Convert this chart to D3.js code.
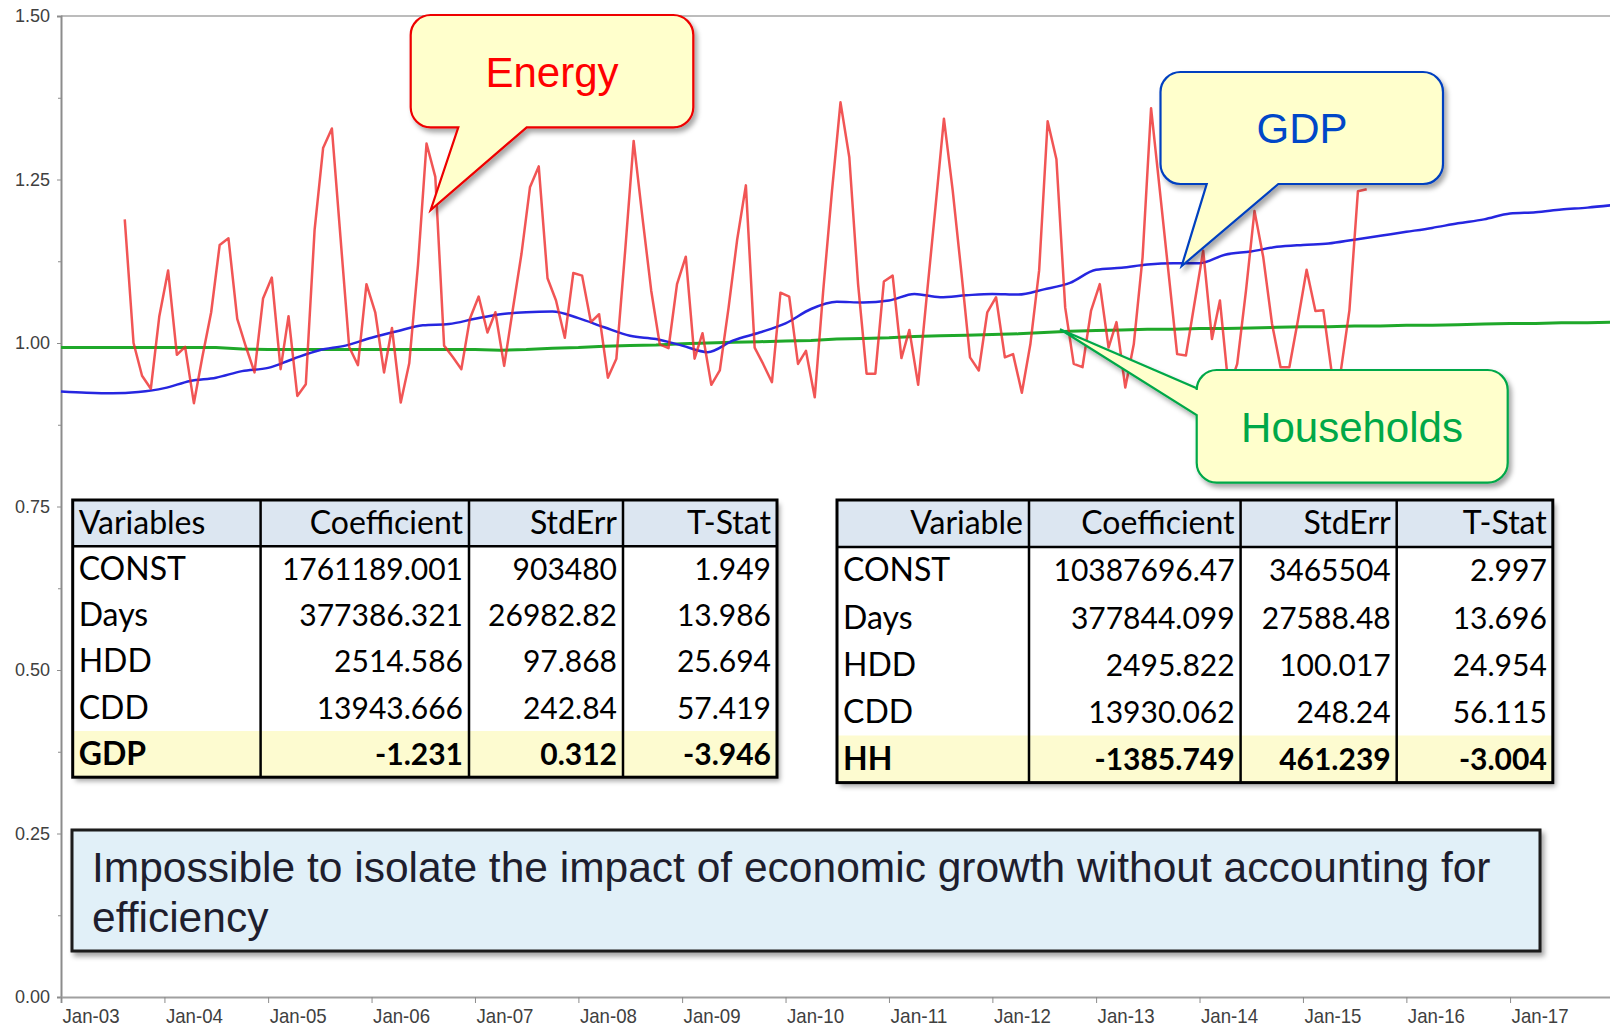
<!DOCTYPE html>
<html>
<head>
<meta charset="utf-8">
<script src="https://cdn.jsdelivr.net/npm/d3@7"></script>
<style>
  html, body { margin: 0; padding: 0; background: #fff; overflow: hidden; }
  svg { display: block; }
</style>
</head>
<body>
<svg id="chart" width="1610" height="1028"></svg>
<script>
// ---- data ----
// monthly energy index, Aug 2003 .. Aug 2015
const energyValues = [
  1.189, 1.000, 0.950, 0.930, 1.041, 1.111, 0.982, 0.994, 0.908, 0.979,
  1.047, 1.150, 1.160, 1.037, 0.995, 0.955, 1.068, 1.100, 0.960, 1.041,
  0.919, 0.937, 1.173, 1.298, 1.328, 1.158, 0.994, 0.966, 1.090, 1.047,
  0.955, 1.023, 0.909, 0.969, 1.120, 1.305, 1.254, 0.996, 0.979, 0.960,
  1.037, 1.071, 1.016, 1.047, 0.965, 1.050, 1.136, 1.238, 1.270, 1.099,
  1.065, 1.008, 1.107, 1.103, 1.032, 1.044, 0.947, 0.976, 1.141, 1.309,
  1.192, 1.080, 0.998, 0.992, 1.090, 1.132, 0.976, 1.015, 0.936, 0.958,
  1.054, 1.157, 1.241, 0.993, 0.968, 0.940, 1.077, 1.071, 0.968, 0.988,
  0.917, 1.080, 1.233, 1.368, 1.284, 1.090, 0.953, 0.953, 1.094, 1.103,
  0.977, 1.020, 0.936, 1.070, 1.207, 1.343, 1.233, 1.106, 0.978, 0.958,
  1.047, 1.070, 0.978, 0.983, 0.924, 0.998, 1.111, 1.339, 1.281, 1.054,
  0.968, 0.963, 1.049, 1.090, 0.993, 1.032, 0.932, 0.998, 1.131, 1.359,
  1.233, 1.106, 0.983, 0.981, 1.060, 1.141, 1.006, 1.065, 0.930, 0.968,
  1.080, 1.202, 1.131, 1.029, 0.963, 0.963, 1.034, 1.112, 1.049, 1.050,
  0.950, 0.955, 1.050, 1.232, 1.235
];

// quarterly GDP index, Jan 2003 .. Jan 2018
const gdpValues = [
  0.926, 0.924, 0.923, 0.925, 0.931, 0.942, 0.947, 0.957, 0.962, 0.976,
  0.989, 0.996, 1.008, 1.018, 1.027, 1.029, 1.037, 1.044, 1.047, 1.048,
  1.038, 1.024, 1.011, 1.006, 0.996, 0.986, 1.004, 1.016, 1.030, 1.052,
  1.063, 1.062, 1.065, 1.075, 1.070, 1.073, 1.075, 1.074, 1.082, 1.092,
  1.112, 1.115, 1.120, 1.122, 1.122, 1.135, 1.140, 1.147, 1.150, 1.152,
  1.158, 1.164, 1.170, 1.176, 1.183, 1.189, 1.198, 1.200, 1.204, 1.207,
  1.211
];

// quarterly households index, Jan 2003 .. Jan 2018
const hhValues = [
  0.993, 0.993, 0.993, 0.993, 0.993, 0.993, 0.993, 0.991, 0.990, 0.990,
  0.990, 0.990, 0.990, 0.990, 0.990, 0.990, 0.990, 0.989, 0.990, 0.992,
  0.993, 0.995, 0.996, 0.997, 0.999, 1.000, 1.001, 1.002, 1.003, 1.004,
  1.006, 1.007, 1.008, 1.010, 1.011, 1.012, 1.013, 1.014, 1.016, 1.018,
  1.019, 1.020, 1.021, 1.021, 1.022, 1.022, 1.023, 1.024, 1.025, 1.025,
  1.026, 1.026, 1.027, 1.027, 1.028, 1.029, 1.030, 1.030, 1.031, 1.031,
  1.032
];

const yMajorTicks = [0, 0.25, 0.5, 0.75, 1.0, 1.25, 1.5];
const yMinorTicks = [0.125, 0.375, 0.625, 0.875, 1.125, 1.375];

const tableAHeader = ["Variables", "Coefficient", "StdErr", "T-Stat"];
const tableARows = [
  ["CONST", "1761189.001", "903480", "1.949"],
  ["Days", "377386.321", "26982.82", "13.986"],
  ["HDD", "2514.586", "97.868", "25.694"],
  ["CDD", "13943.666", "242.84", "57.419"],
  ["GDP", "-1.231", "0.312", "-3.946"]
];

const tableBHeader = ["Variable", "Coefficient", "StdErr", "T-Stat"];
const tableBRows = [
  ["CONST", "10387696.47", "3465504", "2.997"],
  ["Days", "377844.099", "27588.48", "13.696"],
  ["HDD", "2495.822", "100.017", "24.954"],
  ["CDD", "13930.062", "248.24", "56.115"],
  ["HH", "-1385.749", "461.239", "-3.004"]
];

const captionLines = [
  "Impossible to isolate the impact of economic growth without accounting for",
  "efficiency"
];

// ---- dates for the series ----
const energyDates = d3.timeMonth
  .range(new Date(2003, 7, 1), new Date(2015, 8, 2))
  .map((d) => d3.timeDay.offset(d, 13));
const quarterDates = d3.timeMonth.every(3).range(new Date(2003, 0, 1), new Date(2018, 0, 2));

const energy = energyValues.map((v, i) => ({ date: energyDates[i], value: v }));
const gdp = gdpValues.map((v, i) => ({ date: quarterDates[i], value: v }));
const hh = hhValues.map((v, i) => ({ date: quarterDates[i], value: v }));

// ---- layout ----
const svg = d3.select("#chart");
const plotLeft = 61, plotTop = 16, plotBottom = 997;

const x = d3.scaleTime()
  .domain([new Date(2003, 0, 1), new Date(2018, 0, 1)])
  .range([plotLeft, 1613.5]);
const y = d3.scaleLinear().domain([0, 1.5]).range([plotBottom, plotTop]);

const defs = svg.append("defs");
const shadow = defs.append("filter").attr("id", "shadow")
  .attr("x", "-10%").attr("y", "-10%").attr("width", "130%").attr("height", "140%");
shadow.append("feDropShadow")
  .attr("dx", 3).attr("dy", 4).attr("stdDeviation", 2.5)
  .attr("flood-color", "#000").attr("flood-opacity", 0.35);

// top frame line
svg.append("line")
  .attr("x1", plotLeft).attr("x2", 1610)
  .attr("y1", plotTop).attr("y2", plotTop)
  .attr("stroke", "#a6a6a6").attr("stroke-width", 1.5);

// y axis
const yAxis = svg.append("g")
  .attr("transform", `translate(${plotLeft},0)`)
  .call(d3.axisLeft(y).tickValues(yMajorTicks).tickFormat(d3.format(".2f"))
    .tickSize(4).tickPadding(7));
svg.append("g")
  .attr("transform", `translate(${plotLeft},0)`)
  .call(d3.axisLeft(y).tickValues(yMinorTicks).tickFormat("").tickSize(3))
  .call((g) => g.select(".domain").remove())
  .call((g) => g.selectAll("line").attr("stroke", "#8c8c8c"));
yAxis.select(".domain").attr("stroke", "#8c8c8c").attr("stroke-width", 2);
yAxis.selectAll(".tick line").attr("stroke", "#8c8c8c");
yAxis.selectAll("text")
  .attr("font-family", "Liberation Sans, Arial, sans-serif")
  .attr("font-size", 18).attr("fill", "#404040");

// x axis (labels are a condensed face in the original)
const xAxis = svg.append("g")
  .attr("transform", `translate(0,${plotBottom})`)
  .call(d3.axisBottom(x)
    .tickValues(d3.timeYear.range(new Date(2003, 0, 1), new Date(2017, 0, 2)))
    .tickFormat(d3.timeFormat("%b-%y"))
    .tickSize(6).tickPadding(5));
xAxis.select(".domain").attr("stroke", "#a0a0a0").attr("stroke-width", 2);
xAxis.selectAll(".tick line").attr("stroke", "#8c8c8c");
xAxis.selectAll("text")
  .attr("text-anchor", "start").attr("x", 1)
  .attr("font-family", "Liberation Sans, Arial, sans-serif")
  .attr("font-size", 21).attr("fill", "#404040")
  .attr("textLength", 57).attr("lengthAdjust", "spacingAndGlyphs");

// series
const line = d3.line().x((d) => x(d.date)).y((d) => y(d.value));

svg.append("path").datum(hh)
  .attr("fill", "none").attr("stroke", "#1fa82a").attr("stroke-width", 3)
  .attr("d", line);
svg.append("path").datum(gdp)
  .attr("fill", "none").attr("stroke", "#2626e0").attr("stroke-width", 2.5)
  .attr("d", line.curve(d3.curveMonotoneX));
svg.append("path").datum(energy)
  .attr("fill", "none").attr("stroke", "#ee2a2a").attr("stroke-opacity", 0.8)
  .attr("stroke-width", 2.5).attr("stroke-linejoin", "round")
  .attr("d", line.curve(d3.curveLinear));

// ---- tables ----
function drawTable(x0, y0, cols, rowH, header, rows, firstHeadRight) {
  const g = svg.append("g");
  const total = rowH * (rows.length + 1);
  const width = cols[cols.length - 1] - cols[0];

  g.append("rect")
    .attr("x", x0).attr("y", y0).attr("width", width).attr("height", total)
    .attr("fill", "#fff").attr("filter", "url(#shadow)");
  g.append("rect")
    .attr("x", x0).attr("y", y0).attr("width", width).attr("height", rowH)
    .attr("fill", "#dce6f1");
  g.append("rect")
    .attr("x", x0).attr("y", y0 + rowH * rows.length).attr("width", width).attr("height", rowH)
    .attr("fill", "#fdfbd0");

  const all = [header].concat(rows);
  all.forEach((row, r) => {
    row.forEach((cell, c) => {
      const left = c === 0 && !(r === 0 && firstHeadRight);
      g.append("text")
        .attr("x", left ? cols[c] + 6 : cols[c + 1] - 6)
        .attr("y", y0 + rowH * r + rowH * 0.73)
        .attr("text-anchor", left ? "start" : "end")
        .attr("font-family", "Lato, Open Sans, sans-serif")
        .attr("font-size", r === 0 || c === 0 ? 32 : 30)
        .attr("font-weight", r === all.length - 1 ? 700 : 400)
        .attr("fill", "#000")
        .text(cell);
    });
  });

  cols.slice(1, -1).forEach((cx) => {
    g.append("line").attr("x1", cx).attr("x2", cx)
      .attr("y1", y0).attr("y2", y0 + total)
      .attr("stroke", "#000").attr("stroke-width", 2.5);
  });
  g.append("line").attr("x1", x0).attr("x2", x0 + width)
    .attr("y1", y0 + rowH).attr("y2", y0 + rowH)
    .attr("stroke", "#000").attr("stroke-width", 2.5);
  g.append("rect")
    .attr("x", x0).attr("y", y0).attr("width", width).attr("height", total)
    .attr("fill", "none").attr("stroke", "#000").attr("stroke-width", 3);
}

drawTable(72.7, 500, [72.7, 260.6, 469, 623, 777], 46.2, tableAHeader, tableARows, false);
drawTable(837, 500, [837, 1029, 1240.6, 1396.7, 1552.8], 47.1, tableBHeader, tableBRows, true);

// ---- caption box ----
svg.append("rect")
  .attr("x", 72).attr("y", 830).attr("width", 1468).attr("height", 121)
  .attr("fill", "#e1f0f8").attr("stroke", "#1a1a1a").attr("stroke-width", 3)
  .attr("filter", "url(#shadow)");
svg.append("g").selectAll("text")
  .data(captionLines)
  .join("text")
  .attr("x", 92)
  .attr("y", (d, i) => 882 + i * 50)
  .attr("font-family", "Liberation Sans, Arial, sans-serif")
  .attr("font-size", 42.5)
  .attr("fill", "#1e1e2e")
  .text((d) => d);

// ---- callouts ----
function calloutPath(b, w) {
  const r = b.r;
  let p = `M${b.x0 + r},${b.y0} H${b.x1 - r} A${r},${r} 0 0 1 ${b.x1},${b.y0 + r}`;
  p += ` V${b.y1 - r} A${r},${r} 0 0 1 ${b.x1 - r},${b.y1}`;
  if (w.side === "bottom") p += ` H${w.a} L${w.tx},${w.ty} L${w.b},${b.y1}`;
  p += ` H${b.x0 + r} A${r},${r} 0 0 1 ${b.x0},${b.y1 - r}`;
  if (w.side === "left") p += ` V${w.a} L${w.tx},${w.ty} L${b.x0},${w.b}`;
  p += ` V${b.y0 + r} A${r},${r} 0 0 1 ${b.x0 + r},${b.y0} Z`;
  return p;
}

const callouts = [
  { label: "Energy", color: "#ff0000", stroke: "#ee0000",
    box: { x0: 410.7, y0: 15, x1: 693.3, y1: 127.3, r: 20 },
    wedge: { side: "bottom", a: 526.7, b: 458.3, tx: 430.7, ty: 210 },
    tx: 552, ty: 87 },
  { label: "GDP", color: "#0047c8", stroke: "#0040c0",
    box: { x0: 1160.5, y0: 72, x1: 1443, y1: 184, r: 20 },
    wedge: { side: "bottom", a: 1278.3, b: 1206.7, tx: 1181.7, ty: 266 },
    tx: 1302, ty: 143 },
  { label: "Households", color: "#00a848", stroke: "#00a848",
    box: { x0: 1196.7, y0: 370, x1: 1507.7, y1: 482.7, r: 20 },
    wedge: { side: "left", a: 415, b: 388.3, tx: 1060, ty: 329.3 },
    tx: 1352, ty: 442 }
];

callouts.forEach((c) => {
  svg.append("path")
    .attr("d", calloutPath(c.box, c.wedge))
    .attr("fill", "#ffffcc").attr("stroke", c.stroke).attr("stroke-width", 2.2)
    .attr("stroke-linejoin", "miter")
    .attr("filter", "url(#shadow)");
  svg.append("text")
    .attr("x", c.tx).attr("y", c.ty)
    .attr("text-anchor", "middle")
    .attr("font-family", "Liberation Sans, Arial, sans-serif")
    .attr("font-size", 42)
    .attr("fill", c.color)
    .text(c.label);
});
</script>
</body>
</html>
